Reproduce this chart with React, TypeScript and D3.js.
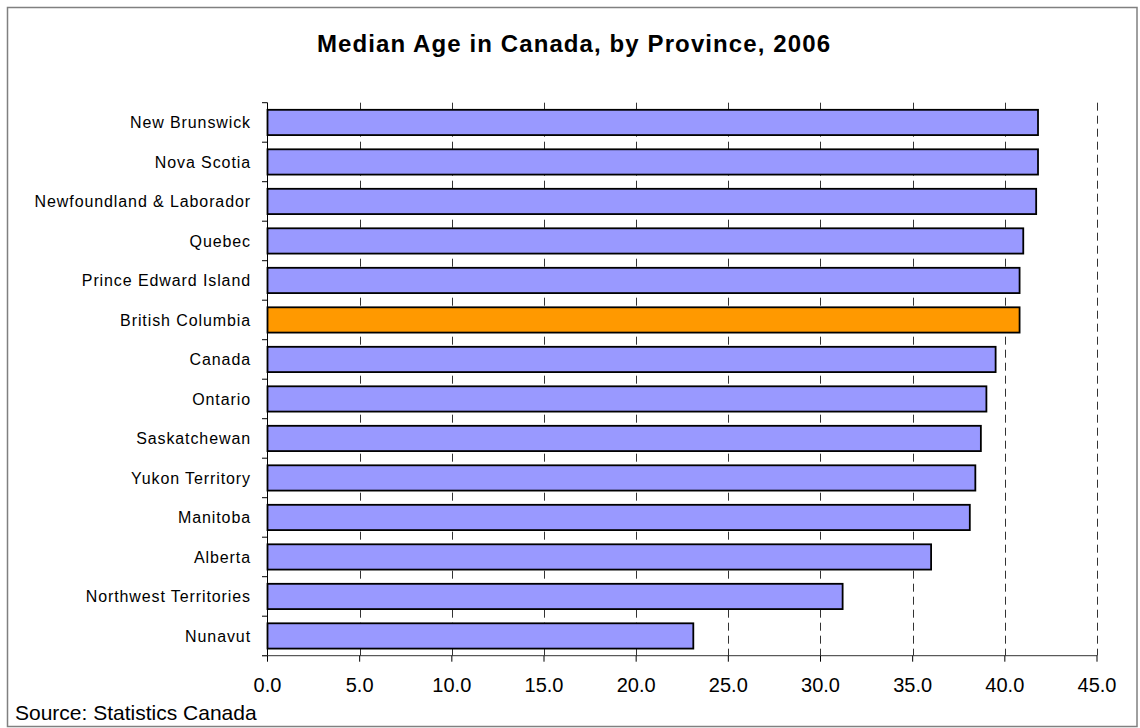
import * as d3 from 'd3'

const provinces = [
  'New Brunswick',
  'Nova Scotia',
  'Newfoundland & Laborador',
  'Quebec',
  'Prince Edward Island',
  'British Columbia',
  'Canada',
  'Ontario',
  'Saskatchewan',
  'Yukon Territory',
  'Manitoba',
  'Alberta',
  'Northwest Territories',
  'Nunavut',
]

const medianAge = [41.8, 41.8, 41.7, 41.0, 40.8, 40.8, 39.5, 39.0, 38.7, 38.4, 38.1, 36.0, 31.2, 23.1]

const xTicks = [0, 5, 10, 15, 20, 25, 30, 35, 40, 45]

const highlight = 'British Columbia'

const FONT = '"Liberation Sans", Arial, Helvetica, sans-serif'

export default function App() {
  const width = 1140
  const height = 728
  const left = 267.5
  const right = 1097
  const top = 102.7
  const bottom = 655.7

  const x = d3.scaleLinear().domain([0, 45]).range([left, right])
  const y = d3.scaleBand<string>()
    .domain(provinces)
    .range([top, bottom])
    .paddingInner(0.36)
    .paddingOuter(0.18)

  const step = y.step()
  const boundaries = d3.range(provinces.length + 1).map(i => top + i * step)

  return (
    <svg
      width={width}
      height={height}
      style={{ position: 'absolute', left: 0, top: 0, background: '#fff' }}
      fontFamily={FONT}
    >
      {/* chart frame */}
      <rect x={7.5} y={7.5} width={1129.5} height={719} fill="#fff" stroke="#808080" strokeWidth={1.5} />

      <text x={574} y={52} textAnchor="middle" fontSize={24} fontWeight="bold" letterSpacing={1.1} fill="#000">
        Median Age in Canada, by Province, 2006
      </text>

      {/* dashed gridlines */}
      {xTicks.slice(1).map(t => (
        <line
          key={'g' + t}
          x1={Math.round(x(t)) + 0.5}
          x2={Math.round(x(t)) + 0.5}
          y1={top}
          y2={bottom}
          stroke="#333"
          strokeWidth={1}
          strokeDasharray="8,5"
        />
      ))}

      {/* bars */}
      {provinces.map((p, i) => (
        <rect
          key={p}
          x={x(0)}
          y={y(p)!}
          width={x(medianAge[i]) - x(0)}
          height={y.bandwidth()}
          fill={p === highlight ? '#FF9900' : '#9999FF'}
          stroke="#000"
          strokeWidth={1.8}
        />
      ))}

      {/* y axis */}
      <line x1={left} x2={left} y1={top} y2={bottom} stroke="#000" strokeWidth={1} />
      {boundaries.map((b, i) => (
        <line key={'yt' + i} x1={left - 5.5} x2={left} y1={b} y2={b} stroke="#000" strokeWidth={1} />
      ))}
      {provinces.map(p => (
        <text
          key={'l' + p}
          x={251}
          y={y(p)! + y.bandwidth() / 2}
          dy="0.36em"
          textAnchor="end"
          fontSize={16}
          letterSpacing={0.9}
          fill="#000"
        >
          {p}
        </text>
      ))}

      {/* x axis */}
      <line x1={left - 5.5} x2={right} y1={bottom} y2={bottom} stroke="#333" strokeWidth={1} />
      {xTicks.map(t => (
        <g key={'xt' + t}>
          <line x1={x(t)} x2={x(t)} y1={bottom} y2={bottom + 6} stroke="#000" strokeWidth={1} />
          <text x={x(t)} y={692} textAnchor="middle" fontSize={20} fill="#000">
            {t.toFixed(1)}
          </text>
        </g>
      ))}

      <text x={15} y={720} fontSize={21} fill="#000">
        Source: Statistics Canada
      </text>
    </svg>
  )
}
